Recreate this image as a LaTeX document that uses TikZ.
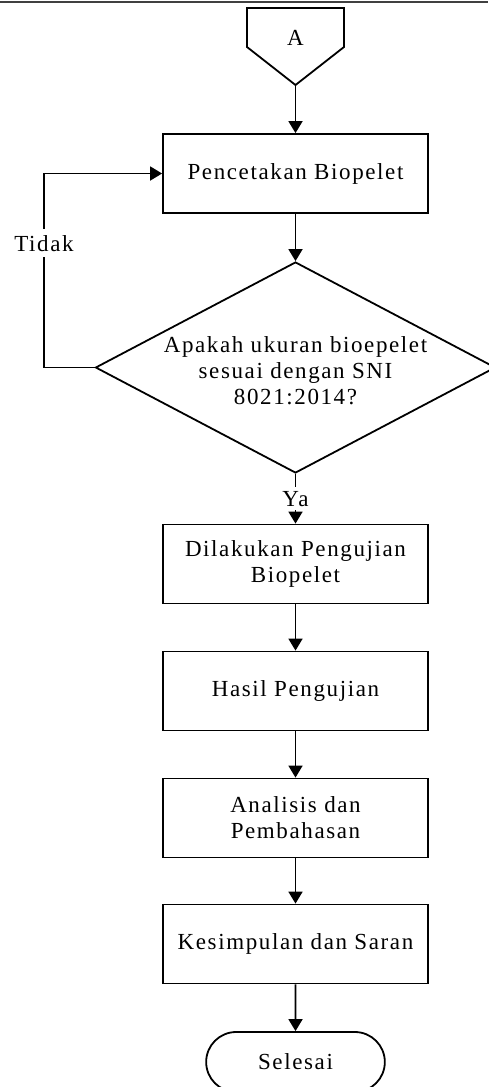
\documentclass[tikz,border=0pt]{standalone}
\usepackage{fontspec}
\setmainfont{Liberation Serif}[LetterSpace=7]
\usetikzlibrary{shapes.geometric,shapes.misc,arrows.meta}
\tikzset{>={Triangle[length=6pt,width=7pt]}}
\tikzset{
  process/.style = {draw, line width=0.9pt, minimum width=132.5pt, minimum height=39.5pt, align=center},
  decision/.style = {draw, diamond, line width=0.9pt, inner sep=0pt, minimum width=200pt, minimum height=105.5pt},
  terminal/.style = {draw, rounded rectangle, line width=0.9pt, minimum width=96pt, minimum height=30pt},
  flow/.style = {->, line width=0.9pt},
  onlink/.style = {fill=white, inner xsep=1pt, inner ysep=3pt}
}

\begin{document}
\begin{tikzpicture}[x=0.5pt,y=-0.5pt,font=\fontsize{11.5pt}{13pt}\selectfont]
  \useasboundingbox (0,0) rectangle (488,1087);
  \draw[line width=1pt,black!75] (0,1.5) -- (488,1.5);
  % off-page connector
  \draw[line width=0.9pt] (247,8) -- (344,8) -- (344,47)
  -- (295.5,85) coordinate (Aend) -- (247,47) -- cycle;
  \node (A) at (295.5,38) {A};
  % 
  \node[process] (cetak) at (295.5,173.5) {Pencetakan Biopelet};
  \node[decision] (cek) at (295.5,367.5) {};
  \node[align=center] (cektext) at (295.5,371) {Apakah ukuran bioepelet\\sesuai dengan SNI\\8021:2014?};
  \node[process] (uji) at (295.5,564) {Dilakukan Pengujian\\Biopelet};
  \node[process] (hasil) at (295.5,691) {Hasil Pengujian};
  \node[process] (analisis) at (295.5,818) {Analisis dan\\Pembahasan};
  \node[process] (simpul) at (295.5,944) {Kesimpulan dan Saran};
  \node[terminal] (selesai) at (295.5,1062) {Selesai};
  % 
  \draw[flow] (Aend) -- (cetak);
  \draw[flow] (cetak) -- (cek);
  \draw[flow] (cek) -- node[onlink,inner ysep=2pt,pos=0.5] {Ya} (uji);
  \draw[flow] (uji) -- (hasil);
  \draw[flow] (hasil) -- (analisis);
  \draw[flow] (analisis) -- (simpul);
  \draw[flow] (simpul) -- (selesai);
  % loop back
  \coordinate (balik) at (44,367.5);
  \draw[flow] (cek.west) -- (balik) |- node[onlink,pos=0.32] {Tidak} (cetak.west);
\end{tikzpicture}
\end{document}
